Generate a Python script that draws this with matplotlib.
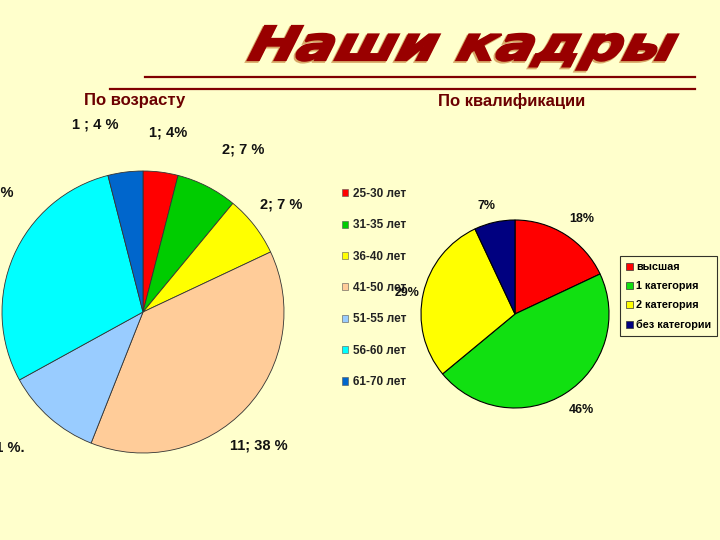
import numpy as np
import matplotlib
matplotlib.use("Agg")
import matplotlib.pyplot as plt
from matplotlib.textpath import TextPath
from matplotlib.font_manager import FontProperties
from matplotlib.patches import PathPatch
from matplotlib.transforms import Affine2D
from matplotlib.lines import Line2D
from matplotlib.patches import Patch

## Data:
title_text = "Наши кадры"
age_title = "По возрасту"
qual_title = "По квалификации"

# Age groups (clockwise from 12 o'clock):
age_groups = ["25-30 лет", "31-35 лет", "36-40 лет", "41-50 лет", "51-55 лет", "56-60 лет", "61-70 лет"]
age_share = [4, 7, 7, 38, 11, 29, 4]
age_labels = ["1; 4%", "2; 7 %", "2; 7 %", "11; 38 %", "3; 11 %.", "9; 29 %", "1 ; 4 %"]
age_colors = ["#FF0000", "#00CC00", "#FFFF00", "#FFCC99", "#99CCFF", "#00FFFF", "#0066CC"]

# Qualification:
qual_groups = ["высшая", "1 категория", "2 категория", "без категории"]
qual_share = [18, 46, 29, 7]
qual_labels = ["18%", "46%", "29%", "7%"]
qual_colors = ["#FF0000", "#11E011", "#FFFF00", "#000080"]

# Label positions (in pie radius units) and alignment:
age_lab_pos = [(0.18, 1.27), (0.71, 1.15), (0.98, 0.76), (0.82, -0.95), (-0.84, -0.96), (-0.915, 0.85), (-0.34, 1.33)]
age_lab_ha = ["center", "center", "center", "center", "right", "right", "center"]
qual_lab_pos = [(0.71, 1.01), (0.71, -1.02), (-1.15, 0.22), (-0.30, 1.15)]

bg = "#FFFFCC"
dark_red = "#800000"
W, H = 720, 540

fig = plt.figure(figsize=(7.2, 5.4), dpi=100, facecolor=bg)

def px_axes(cx, cy, r):
	# axes whose (-1,1) box is a square of radius r px around (cx, cy) in image coords
	return fig.add_axes([(cx - r)/W, 1 - (cy + r)/H, 2*r/W, 2*r/H])

## Left pie: by age
ax1 = px_axes(143, 312, 141)
ax1.pie(age_share, colors=age_colors, startangle=90, counterclock=False, radius=1,
		wedgeprops=dict(edgecolor="#333333", linewidth=0.6))
ax1.set_xlim(-1, 1); ax1.set_ylim(-1, 1); ax1.set_aspect("auto")
ax1.set_facecolor("none")
for lab, (x, y), ha in zip(age_labels, age_lab_pos, age_lab_ha):
	ax1.text(x, y, lab, ha=ha, va="center", fontsize=10.5, fontweight="bold",
			 family="Liberation Sans", color="#111111", clip_on=False)

handles = [Patch(facecolor=c, edgecolor="#555555", linewidth=0.4) for c in age_colors]
leg1 = ax1.legend(handles, age_groups, loc="upper left", bbox_to_anchor=(342/W, 1 - 188/H),
				  bbox_transform=fig.transFigure, frameon=False, handlelength=0.55, handleheight=0.55,
				  handletextpad=0.4, labelspacing=1.64, borderpad=0, borderaxespad=0,
				  prop=FontProperties(family="Liberation Sans", weight="bold", size=8.5))
for t in leg1.get_texts():
	t.set_color("#222222")

## Right pie: by qualification
ax2 = px_axes(515, 314, 94)
ax2.pie(qual_share, colors=qual_colors, startangle=90, counterclock=False, radius=1,
		wedgeprops=dict(edgecolor="black", linewidth=0.8))
ax2.set_xlim(-1, 1); ax2.set_ylim(-1, 1); ax2.set_aspect("auto")
ax2.set_facecolor("none")
for lab, (x, y) in zip(qual_labels, qual_lab_pos):
	ax2.text(x, y, lab, ha="center", va="center", fontsize=9, fontweight="bold",
			 family="Liberation Sans", color="#111111", clip_on=False)

handles = [Patch(facecolor=c, edgecolor="#333333", linewidth=0.5) for c in qual_colors]
leg2 = ax2.legend(handles, qual_groups, loc="upper left", bbox_to_anchor=(620/W, 1 - 256/H),
				  bbox_transform=fig.transFigure, frameon=True, fancybox=False, handlelength=0.65,
				  handleheight=0.65, handletextpad=0.3, labelspacing=0.85, borderpad=0.55,
				  borderaxespad=0, prop=FontProperties(family="Liberation Sans", weight="bold", size=7.8))
leg2.get_frame().set_edgecolor("black")
leg2.get_frame().set_facecolor(bg)
leg2.get_frame().set_linewidth(0.8)

## Subtitles
fig.text(135/W, 1 - 101/H, age_title, ha="center", va="center", fontsize=12, fontweight="bold",
		 family="Liberation Sans", color="#6B0000")
fig.text(512/W, 1 - 101/H, qual_title, ha="center", va="center", fontsize=12, fontweight="bold",
		 family="Liberation Sans", color="#6B0000")

## Title lines
fig.add_artist(Line2D([145/W, 695/W], [1 - 77/H, 1 - 77/H], color=dark_red, lw=1.6, transform=fig.transFigure))
fig.add_artist(Line2D([110/W, 695/W], [1 - 89/H, 1 - 89/H], color=dark_red, lw=1.6, transform=fig.transFigure))

## Title (skewed, stretched word-art)
fp = FontProperties(family="DejaVu Sans", weight="bold")
tp = TextPath((0, 0), title_text, size=1, prop=fp)
cap = TextPath((0, 0), "Н", size=1, prop=fp).get_extents().y1
tp = Affine2D().skew_deg(22, 0).transform_path(tp)
ext = tp.get_extents()
x0, x1, top, base = 248, 678, 26, 60
sx = (x1 - x0)/ext.width/W
sy = (base - top)/cap/H
tr = Affine2D().translate(-ext.x0, 0).scale(sx, sy).translate(x0/W, 1 - base/H) + fig.transFigure
shadow = PathPatch(tp, transform=tr + Affine2D().translate(-1.5, -1.5), fc="#D8A868", ec="#D8A868", lw=2)
fig.add_artist(shadow)
fig.add_artist(PathPatch(tp, transform=tr, fc="#990000", ec="#990000", lw=1.6))

fig.savefig("out.png", dpi=100, facecolor=bg)
